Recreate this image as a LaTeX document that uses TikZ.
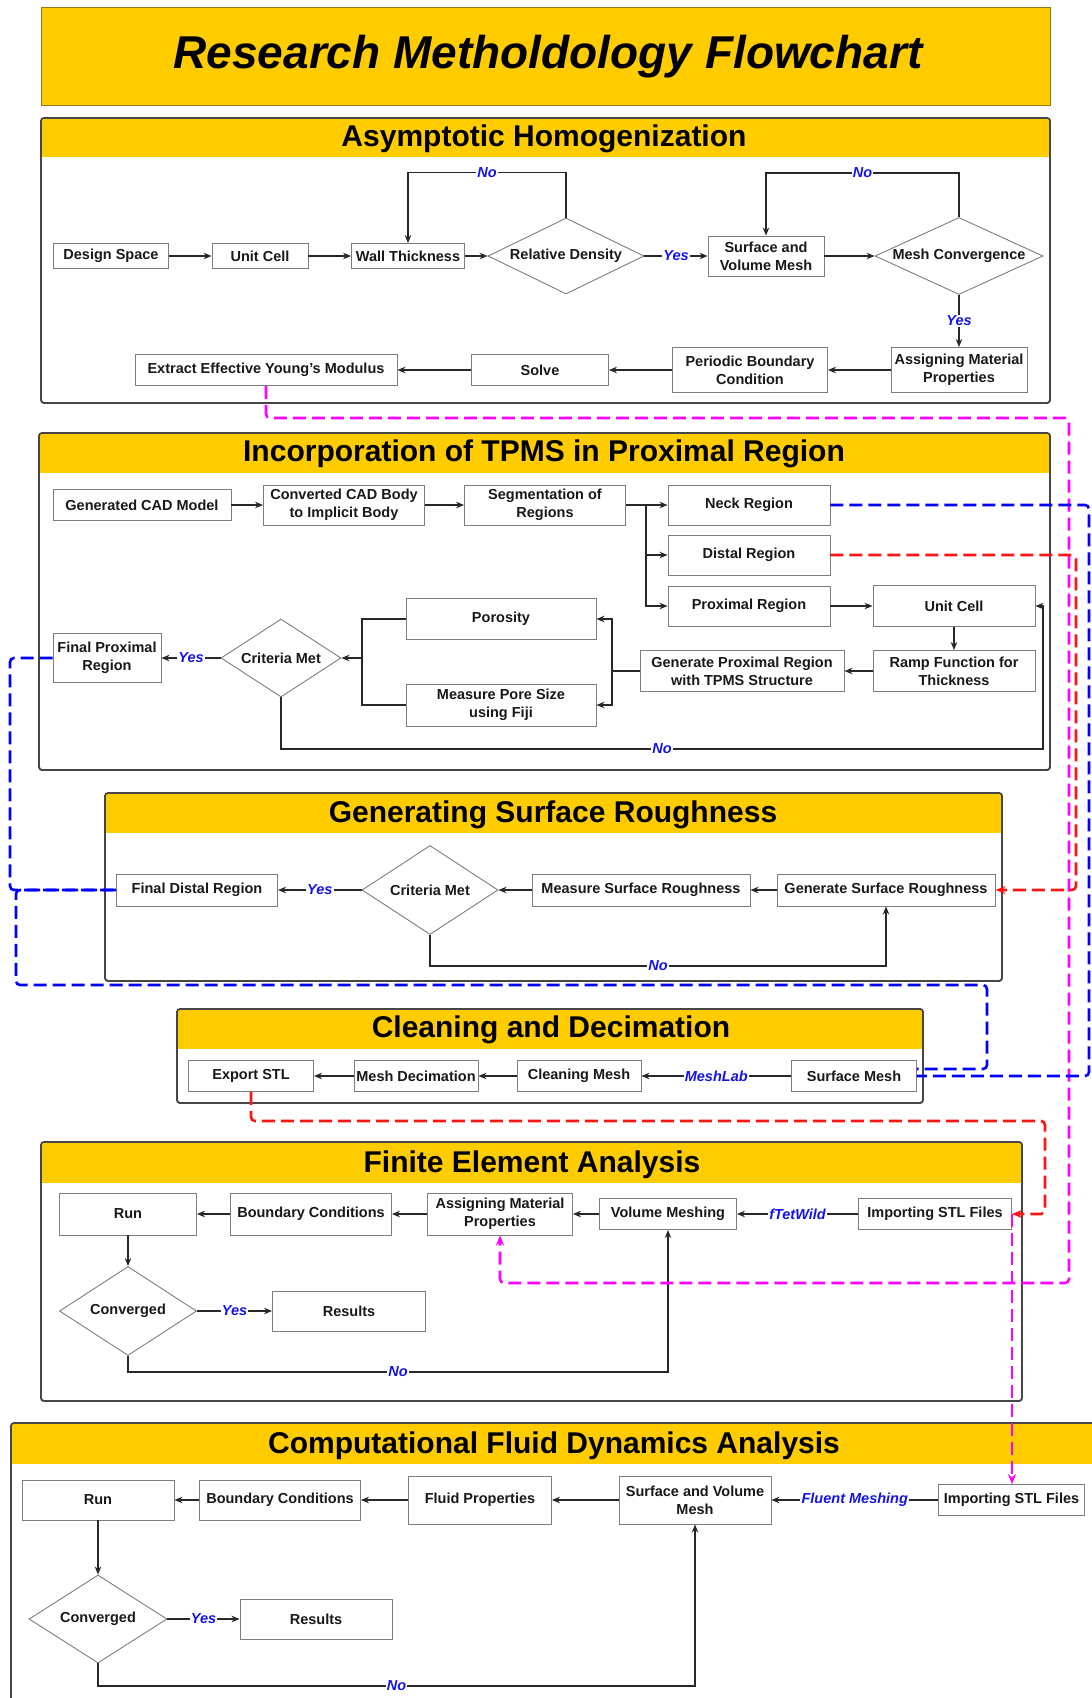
\documentclass[tikz,border=0pt]{standalone}
\usepackage{fontspec}
\setmainfont{Liberation Sans}
\usetikzlibrary{shapes.geometric,arrows.meta}
\definecolor{gold}{RGB}{255,204,0}
\definecolor{golddark}{RGB}{150,120,20}
\definecolor{lblue}{RGB}{20,20,230}
\definecolor{mag}{RGB}{255,0,255}
\definecolor{dred}{RGB}{255,20,20}
\definecolor{dblue}{RGB}{0,0,255}
\definecolor{boxgray}{RGB}{125,125,125}
\definecolor{linegray}{RGB}{40,40,40}
\definecolor{framegray}{RGB}{70,70,70}
\tikzset{
  box/.style={draw=boxgray, line width=0.9pt, fill=white, inner sep=0pt, align=center,
    font=\bfseries\fontsize{14.5}{18}\selectfont, text=black!90},
  bx/.style 2 args={box, minimum width=#1pt, minimum height=#2pt},
  dm/.style 2 args={box, diamond, minimum width=#1pt, minimum height=#2pt},
  arr/.style={draw=linegray, line width=1.3pt, -{Stealth[length=8pt,width=6.5pt]}},
  ln/.style={draw=linegray, line width=1.3pt},
  lbl/.style={fill=white, text=lblue, font=\bfseries\itshape\fontsize{14.5}{16}\selectfont, inner sep=1.2pt},
  frame/.style={draw=framegray, line width=1.6pt, rounded corners=3pt},
  htitle/.style={font=\bfseries\fontsize{30}{34}\selectfont, inner sep=0pt},
  mdash/.style={line width=2.6pt, dash pattern=on 13pt off 6pt, rounded corners=4pt},
  mtip/.style={-{Stealth[length=10pt,width=8pt]}}
}
\newcommand{\secbox}[5]{%
  \draw[frame, fill=white] (#1,#2) rectangle (#3,#4);
  \begin{scope}
    \clip[rounded corners=3pt] (#1,#2) rectangle (#3,#4);
    \fill[gold] (#1,#2) rectangle (#3,#5);
  \end{scope}
  \draw[frame] (#1,#2) rectangle (#3,#4);}
\begin{document}
\begin{tikzpicture}[x=1pt,y=-1pt]
\useasboundingbox (0,0) rectangle (1092,1698);
\clip (0,0) rectangle (1092,1698);
\fill[white] (0,0) rectangle (1092,1698);

% ---------- title ----------
\draw[fill=gold, draw=golddark, line width=1pt] (41,7) rectangle (1050,105);
\node[font=\bfseries\itshape\fontsize{46}{50}\selectfont, inner sep=0pt] (title) at (548,57) {Research Metholdology Flowchart};

% ---------- section frames ----------
\secbox{41}{118}{1050}{403}{157}
\secbox{39}{433}{1050}{770}{473}
\secbox{105}{793}{1002}{981}{833}
\secbox{177}{1009}{923}{1103}{1049}
\secbox{41}{1142}{1022}{1401}{1183}
\secbox{11}{1423}{1110}{1720}{1464}

\node[htitle] (tA) at (544,139) {Asymptotic Homogenization};
\node[htitle] (tB) at (544,454) {Incorporation of TPMS in Proximal Region};
\node[htitle] (tC) at (553,815) {Generating Surface Roughness};
\node[htitle] (tD) at (551,1030) {Cleaning and Decimation};
\node[htitle] (tE) at (532,1165) {Finite Element Analysis};
\node[htitle] (tF) at (554,1446) {Computational Fluid Dynamics Analysis};

% ---------- A: Asymptotic Homogenization ----------
\node[bx={115}{25}] (ds) at (111,256) {Design Space};
\node[bx={96}{25}] (uc1) at (260,256) {Unit Cell};
\node[bx={113}{25}] (wt) at (408,256) {Wall Thickness};
\node[dm={156}{76}] (rd) at (566,256) {\makebox[0pt]{Relative Density}};
\node[bx={116}{40}] (svm) at (766,256) {Surface and\\Volume Mesh};
\node[dm={168}{77}] (mc) at (959,256) {\makebox[0pt]{Mesh Convergence}};
\node[bx={136}{45}] (amp1) at (959,370) {Assigning Material\\Properties};
\node[bx={155}{45}] (pbc) at (750,370) {Periodic Boundary\\Condition};
\node[bx={137}{31}] (solve) at (540,370) {Solve};
\node[bx={262}{31}] (ext) at (266,370) {Extract Effective Young's Modulus};

\draw[arr] (ds) -- (uc1);
\draw[arr] (uc1) -- (wt);
\draw[arr] (wt) -- (rd);
\draw[arr] (rd) -- node[lbl]{Yes} (svm);
\draw[arr] (svm) -- (mc);
\draw[arr] (mc) -- node[lbl]{Yes} (amp1);
\draw[arr] (amp1) -- (pbc);
\draw[arr] (pbc) -- (solve);
\draw[arr] (solve) -- (ext);
\draw[arr] (rd.north) -- ++(0,-45) -| node[lbl,pos=0.25]{No} (wt.north);
\draw[arr] (mc.north) -- ++(0,-44) -| node[lbl,pos=0.25]{No} (svm.north);

% ---------- B: Incorporation of TPMS ----------
\node[bx={178}{31}] (gcad) at (142,505) {Generated CAD Model};
\node[bx={161}{40}] (conv) at (344,505) {Converted CAD Body\\to Implicit Body};
\node[bx={161}{40}] (seg) at (545,505) {Segmentation of\\Regions};
\node[bx={162}{40}] (neck) at (749,505) {Neck Region};
\node[bx={162}{40}] (distal) at (749,555) {Distal Region};
\node[bx={162}{40}] (prox) at (749,606) {Proximal Region};
\node[bx={162}{41}] (uc2) at (954,606) {Unit Cell};
\node[bx={162}{41}] (ramp) at (954,671) {Ramp Function for\\Thickness};
\node[bx={204}{41}] (gen) at (742,671) {Generate Proximal Region\\with TPMS Structure};
\node[bx={190}{41}] (por) at (501,619) {Porosity};
\node[bx={190}{42}] (pore) at (501,705) {Measure Pore Size\\using Fiji};
\node[dm={120}{78}] (cm1) at (281,658) {\makebox[0pt]{Criteria Met}};
\node[bx={108}{49}] (fpr) at (107,658) {Final Proximal\\Region};

\coordinate (sp) at (646,505);
\coordinate (gs) at (612,671);
\coordinate (ms) at (362,662);
\draw[arr] (gcad) -- (conv);
\draw[arr] (conv) -- (seg);
\draw[arr] (seg.east) -- (neck.west);
\draw[arr] (sp) |- (distal.west);
\draw[arr] (sp) |- (prox.west);
\draw[arr] (prox) -- (uc2);
\draw[arr] (uc2) -- (ramp);
\draw[arr] (ramp) -- (gen);
\draw[ln] (gen.west) -- (gs);
\draw[arr] (gs) |- (por.east);
\draw[arr] (gs) |- (pore.east);
\draw[ln] (por.west) -| (ms);
\draw[ln] (pore.west) -| (ms);
\draw[arr] (ms |- cm1.east) -- (cm1.east);
\draw[arr] (cm1) -- node[lbl]{Yes} (fpr);
\draw[arr] (cm1.south) |- node[lbl,pos=0.75]{No} (1043,749) |- (uc2.east);

% ---------- C: Surface Roughness ----------
\node[bx={161}{32}] (fdr) at (197,890) {Final Distal Region};
\node[dm={136}{89}] (cm2) at (430,890) {\makebox[0pt]{Criteria Met}};
\node[bx={218}{32}] (msr) at (641,890) {Measure Surface Roughness};
\node[bx={218}{32}] (gsr) at (886,890) {Generate Surface Roughness};

\draw[arr] (gsr) -- (msr);
\draw[arr] (msr) -- (cm2);
\draw[arr] (cm2) -- node[lbl]{Yes} (fdr);
\draw[arr] (cm2.south) |- node[lbl,pos=0.75]{No} (886,966) -- (gsr.south);

% ---------- D: Cleaning and Decimation ----------
\node[bx={125}{31}] (stl) at (251,1076) {Export STL};
\node[bx={124}{31}] (dec) at (416,1076) {Mesh Decimation};
\node[bx={124}{31}] (clean) at (579,1076) {Cleaning Mesh};
\node[bx={125}{31}] (smesh) at (854,1076) {Surface Mesh};

\draw[arr] (smesh) -- node[lbl]{MeshLab} (clean);
\draw[arr] (clean) -- (dec);
\draw[arr] (dec) -- (stl);

% ---------- E: FEA ----------
\node[bx={137}{42}] (run1) at (128,1214) {Run};
\node[bx={161}{42}] (bc1) at (311,1214) {Boundary Conditions};
\node[bx={145}{42}] (amp2) at (500,1214) {Assigning Material\\Properties};
\node[bx={137}{31}] (vm) at (668,1214) {Volume Meshing};
\node[bx={153}{31}] (imp1) at (935,1214) {Importing STL Files};
\node[dm={137}{89}] (conv1) at (128,1311) {\makebox[0pt]{Converged}};
\node[bx={153}{40}] (res1) at (349,1311) {Results};

\draw[arr] (imp1) -- node[lbl]{fTetWild} (vm);
\draw[arr] (vm) -- (amp2);
\draw[arr] (amp2) -- (bc1);
\draw[arr] (bc1) -- (run1);
\draw[arr] (run1) -- (conv1);
\draw[arr] (conv1) -- node[lbl]{Yes} (res1);
\draw[arr] (conv1.south) |- node[lbl,pos=0.75]{No} (668,1372) -- (vm.south);

% ---------- F: CFD ----------
\node[bx={152}{40}] (run2) at (98,1500) {Run};
\node[bx={161}{40}] (bc2) at (280,1500) {Boundary Conditions};
\node[bx={143}{48}] (fp) at (480,1500) {Fluid Properties};
\node[bx={152}{48}] (svm2) at (695,1500) {Surface and Volume\\Mesh};
\node[bx={146}{31}] (imp2) at (1011.5,1500) {Importing STL Files};
\node[dm={138}{88}] (conv2) at (98,1619) {\makebox[0pt]{Converged}};
\node[bx={152}{40}] (res2) at (316,1619) {Results};

\draw[arr] (imp2) -- node[lbl]{Fluent Meshing} (svm2);
\draw[arr] (svm2) -- (fp);
\draw[arr] (fp) -- (bc2);
\draw[arr] (bc2) -- (run2);
\draw[arr] (run2) -- (conv2);
\draw[arr] (conv2) -- node[lbl]{Yes} (res2);
\draw[arr] (conv2.south) |- node[lbl,pos=0.75]{No} (695,1686) -- (svm2.south);

% ---------- dashed cross-links ----------
\draw[mdash, mag, mtip] (ext.south) |- (1069,418) |- (500,1283) -- (amp2.south);
\draw[mdash, mag, mtip] (imp1.east) -- (imp1.east |- imp2.north);
\draw[mdash, dred, mtip] (distal.east) -| (1076,890) -- (gsr.east);
\draw[mdash, dred, mtip] (stl.south) |- (1045,1121) |- (imp1.east);
\draw[mdash, dblue] (neck.east) -| (1089,1076) -- (smesh.east);
\draw[mdash, dblue] (fpr.west) -| (10,890) -- (fdr.west);
\draw[mdash, dblue] (fdr.west) -| (16,985) -| (987,1069) -- ([yshift=7pt]smesh.east);
\end{tikzpicture}
\end{document}
